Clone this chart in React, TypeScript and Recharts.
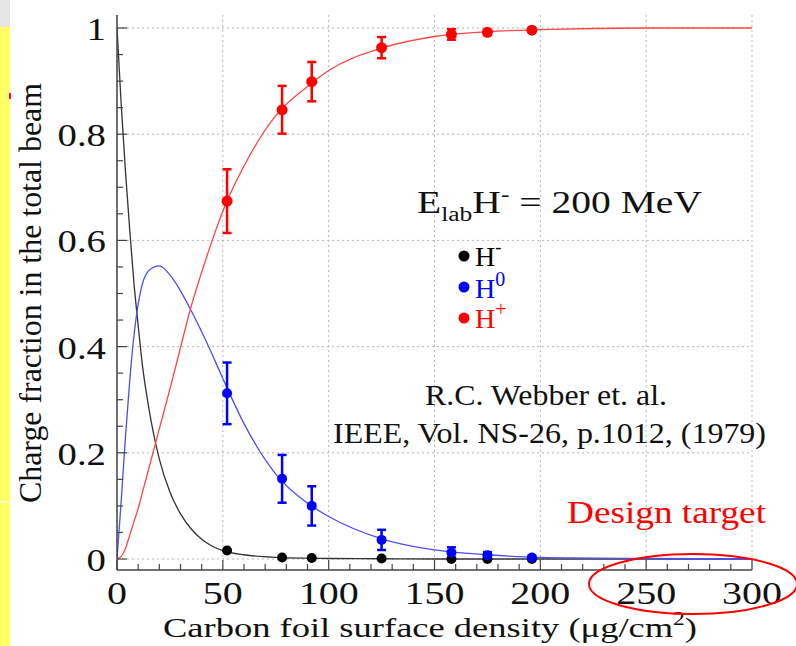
import React from 'react';
import { CartesianGrid, ComposedChart, ErrorBar, Line, Scatter, XAxis, YAxis } from 'recharts';

// axis ticks (minor every 10 / 0.05, labelled majors)
const X_TICKS = [0, 10, 20, 30, 40, 50, 60, 70, 80, 90, 100, 110, 120, 130, 140, 150, 160, 170, 180, 190, 200, 210, 220, 230, 240, 250, 260, 270, 280, 290, 300];
const X_MAJOR = [0, 50, 100, 150, 200, 250, 300];
const Y_TICKS = [0, 0.05, 0.1, 0.15, 0.2, 0.25, 0.3, 0.35, 0.4, 0.45, 0.5, 0.55, 0.6, 0.65, 0.7, 0.75, 0.8, 0.85, 0.9, 0.95, 1];
const Y_MAJOR = [0, 0.2, 0.4, 0.6, 0.8, 1];
const Y_LABELS = ['0', '0.2', '0.4', '0.6', '0.8', '1'];

// fitted curves
const CURVE_X = [0, 2, 4, 6, 8, 10, 12, 15, 20, 25, 30, 35, 40, 45, 50, 60, 75, 90, 100, 125, 150, 175, 200, 250, 300];
const CURVE_HMINUS = [1, 0.855, 0.73, 0.62, 0.52, 0.44, 0.365, 0.285, 0.188, 0.126, 0.085, 0.057, 0.037, 0.024, 0.016, 0.008, 0.003, 0.0015, 0.001, 0.0005, 0, 0, 0, 0, 0];
const CURVE_H0 = [0, 0.11, 0.23, 0.335, 0.42, 0.48, 0.518, 0.543, 0.552, 0.535, 0.505, 0.468, 0.428, 0.385, 0.34, 0.255, 0.16, 0.105, 0.08, 0.038, 0.017, 0.008, 0.003, 0.001, 0];
const CURVE_HPLUS = [0, 0.005, 0.02, 0.045, 0.07, 0.095, 0.125, 0.17, 0.245, 0.32, 0.398, 0.475, 0.54, 0.6, 0.655, 0.74, 0.835, 0.89, 0.92, 0.962, 0.984, 0.993, 0.997, 1, 1];

// measurements (Webber et al.)
const MEAS_X = [52, 78, 92, 125, 158, 175, 196];
const MEAS_HMINUS = [0.016, 0.003, 0.002, 0.001, 0, 0, 0];
const MEAS_H0 = [0.312, 0.151, 0.1, 0.036, 0.012, 0.007, 0.003];
const ERR_H0 = [0.058, 0.045, 0.037, 0.019, 0.01, 0.006, 0.003];
const MEAS_HPLUS = [0.674, 0.846, 0.899, 0.963, 0.988, 0.992, 0.996];
const ERR_HPLUS = [0.06, 0.045, 0.037, 0.02, 0.01, 0.004, 0.002];

const SERIF = '"Liberation Serif", "Times New Roman", serif';
const FRAME = '#444';

const curve = (ys: number[]) => CURVE_X.map((x, i) => ({ x, y: ys[i] }));
const points = (ys: number[], errs?: number[]) => MEAS_X.map((x, i) => ({ x, y: ys[i], err: errs ? errs[i] : 0 }));

const isMajorY = (v: number) => Y_MAJOR.some((m) => Math.abs(m - v) < 1e-6);

function BottomTick(props: any) {
  const { x, y, payload } = props;
  const major = X_MAJOR.includes(payload.value);
  return (
    <g>
      <line x1={x} y1={y} x2={x} y2={y - (major ? 10 : 6)} stroke={FRAME} strokeWidth={1.2} />
      {major && (
        <text transform={`translate(${x},${y + 34}) scale(1.25,1)`} textAnchor="middle" fontSize={32} fontFamily={SERIF} fill="#111">
          {payload.value}
        </text>
      )}
    </g>
  );
}

function TopTick(props: any) {
  const { x, y, payload } = props;
  const major = X_MAJOR.includes(payload.value);
  return <line x1={x} y1={y} x2={x} y2={y + (major ? 10 : 6)} stroke={FRAME} strokeWidth={1.2} />;
}

function LeftTick(props: any) {
  const { x, y, payload } = props;
  const v = payload.value;
  const major = isMajorY(v);
  const idx = Y_MAJOR.findIndex((m) => Math.abs(m - v) < 1e-6);
  return (
    <g>
      <line x1={x} y1={y} x2={x + (major ? 10 : 6)} y2={y} stroke={FRAME} strokeWidth={1.2} />
      {major && (
        <text transform={`translate(${x - 11},${y + 12}) scale(1.25,1)`} textAnchor="end" fontSize={31} fontFamily={SERIF} fill="#111">
          {Y_LABELS[idx]}
        </text>
      )}
    </g>
  );
}

function RightTick(props: any) {
  const { x, y, payload } = props;
  const major = isMajorY(payload.value);
  return <line x1={x} y1={y} x2={x - (major ? 10 : 6)} y2={y} stroke={FRAME} strokeWidth={1.2} />;
}

const dot = (color: string, r: number) => (p: any) => <circle cx={p.cx} cy={p.cy} r={r} fill={color} />;

export default function App() {
  const axisLine = { stroke: FRAME, strokeWidth: 1.5 };
  return (
    <div style={{ position: 'absolute', left: 0, top: 0, width: 796, height: 646, background: '#fff', overflow: 'hidden' }}>
      <ComposedChart width={796} height={646} margin={{ top: 15, right: 44, bottom: 0, left: 0 }}>
        <CartesianGrid verticalValues={X_MAJOR} horizontalValues={Y_MAJOR} stroke="#b5b5b5" strokeDasharray="2 3" />
        <XAxis dataKey="x" type="number" domain={[0, 300]} ticks={X_TICKS} interval={0} height={76} allowDataOverflow
          axisLine={axisLine} tickLine={false} tickSize={0} tickMargin={0} tick={(p: any) => <BottomTick {...p} />} />
        <XAxis xAxisId="top" orientation="top" dataKey="x" type="number" domain={[0, 300]} ticks={X_TICKS} interval={0} height={0} allowDataOverflow
          axisLine={axisLine} tickLine={false} tickSize={0} tickMargin={0} tick={(p: any) => <TopTick {...p} />} />
        <YAxis dataKey="y" type="number" domain={[-0.0207, 1.0245]} ticks={Y_TICKS} interval={0} width={117} allowDataOverflow
          axisLine={axisLine} tickLine={false} tickSize={0} tickMargin={0} tick={(p: any) => <LeftTick {...p} />} />
        <YAxis yAxisId="right" orientation="right" dataKey="y" type="number" domain={[-0.0207, 1.0245]} ticks={Y_TICKS} interval={0} width={0} allowDataOverflow
          axisLine={axisLine} tickLine={false} tickSize={0} tickMargin={0} tick={(p: any) => <RightTick {...p} />} />

        <Line data={curve(CURVE_HMINUS)} dataKey="y" type="monotone" stroke="#333" strokeWidth={1.3} dot={false} isAnimationActive={false} />
        <Line data={curve(CURVE_H0)} dataKey="y" type="monotone" stroke="#4d4dff" strokeWidth={1.3} dot={false} isAnimationActive={false} />
        <Line data={curve(CURVE_HPLUS)} dataKey="y" type="monotone" stroke="#ff4545" strokeWidth={1.3} dot={false} isAnimationActive={false} />

        <Scatter data={points(MEAS_HMINUS)} dataKey="y" shape={dot('#000', 5)} isAnimationActive={false} />
        <Scatter data={points(MEAS_H0, ERR_H0)} dataKey="y" shape={dot('#0000ff', 5)} isAnimationActive={false}>
          <ErrorBar dataKey="err" direction="y" width={4.5} stroke="#0000ff" strokeWidth={2.5} />
        </Scatter>
        <Scatter data={points(MEAS_HPLUS, ERR_HPLUS)} dataKey="y" shape={dot('#ff0000', 5.5)} isAnimationActive={false}>
          <ErrorBar dataKey="err" direction="y" width={4.5} stroke="#ff0000" strokeWidth={2.5} />
        </Scatter>
      </ComposedChart>

      <svg width={796} height={646} style={{ position: 'absolute', left: 0, top: 0, pointerEvents: 'none' }} fontFamily={SERIF}>
        <rect x={0} y={0} width={10} height={27} fill="#e6e6e6" />
        <rect x={0} y={27} width={10} height={619} fill="#ffff66" />
        <line x1={0} x2={10} y1={502} y2={502} stroke="#fff" />
        <rect x={9} y={93} width={2} height={6} fill="#ff0060" />

        {/* axis titles */}
        <text transform="translate(41,293) rotate(-90)" textAnchor="middle" fontSize={31} textLength={420} lengthAdjust="spacingAndGlyphs" fill="#111">
          Charge fraction in the total beam
        </text>
        <text x={163} y={637} fontSize={28} textLength={534} lengthAdjust="spacingAndGlyphs" fill="#111">
          Carbon foil surface density (μg/cm<tspan fontSize={18} dy={-12}>2</tspan><tspan dy={12}>)</tspan>
        </text>

        {/* legend */}
        <text x={417} y={213} fontSize={31} textLength={285} lengthAdjust="spacingAndGlyphs" fill="#111">
          E<tspan fontSize={20} dy={8}>lab</tspan><tspan dy={-8}>H</tspan><tspan fontSize={20} dy={-12}>-</tspan><tspan dy={12}> = 200 MeV</tspan>
        </text>
        <circle cx={464} cy={256} r={5.5} fill="#000" />
        <text x={475} y={266} fontSize={28} fill="#000">H<tspan fontSize={19} dy={-13}>-</tspan></text>
        <circle cx={464} cy={287} r={5.5} fill="#0000ff" />
        <text x={475} y={298} fontSize={28} fill="#0000ff">H<tspan fontSize={20} dy={-12}>0</tspan></text>
        <circle cx={464} cy={318} r={5.5} fill="#ff0000" />
        <text x={475} y={328} fontSize={28} fill="#ff0000">H<tspan fontSize={20} dy={-12}>+</tspan></text>

        {/* reference */}
        <text x={425} y={405} fontSize={29} textLength={242} lengthAdjust="spacingAndGlyphs" fill="#111">R.C. Webber et. al.</text>
        <text x={333} y={443} fontSize={29} textLength={433} lengthAdjust="spacingAndGlyphs" fill="#111">IEEE, Vol. NS-26, p.1012, (1979)</text>

        {/* annotation */}
        <text x={567} y={523} fontSize={32} textLength={199} lengthAdjust="spacingAndGlyphs" fill="#ff0000">Design target</text>
        <ellipse cx={693} cy={584} rx={104} ry={30} fill="none" stroke="#ff0000" strokeWidth={2} />
      </svg>
    </div>
  );
}
